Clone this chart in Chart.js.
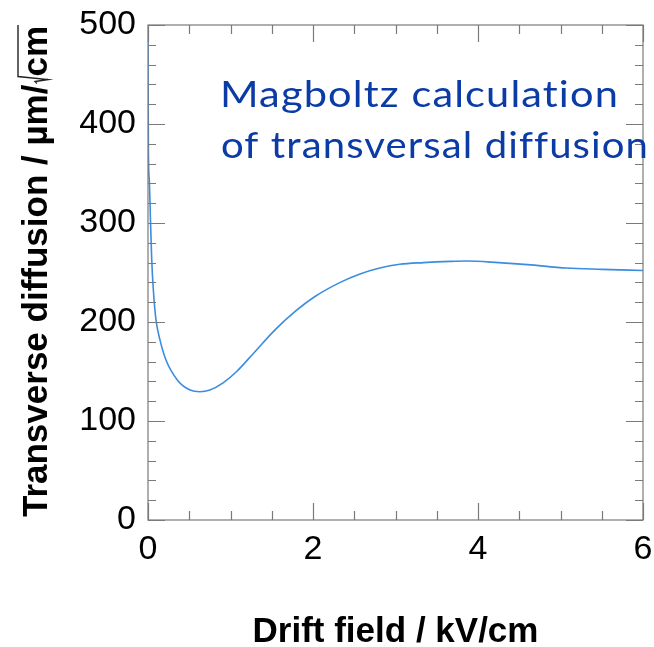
<!DOCTYPE html>
<html>
<head>
<meta charset="utf-8">
<script src="https://cdn.jsdelivr.net/npm/chart.js@4/dist/chart.umd.min.js"></script>
<style>
  html, body { margin: 0; padding: 0; background: #fff; }
</style>
</head>
<body>
<canvas id="chart" width="654" height="647"></canvas>
<script>
// Magboltz transverse diffusion vs drift field
const fieldKV = [0, 0.002, 0.005, 0.016, 0.03, 0.045, 0.065, 0.097, 0.145, 0.218,
  0.36, 0.51, 0.63, 0.75, 0.91, 1.075, 1.28, 1.54, 1.78, 2.02,
  2.33, 2.57, 2.81, 3.05, 3.34, 3.66, 3.86, 4.25, 4.6, 5.07,
  5.5, 6.0];
const diffusion = [500, 434, 371, 343, 303, 263, 232, 202, 182, 161.6,
  141, 131.3, 129.6, 131.3, 138.5, 150, 168.5, 192, 210.4, 225.5,
  240, 248.5, 254.5, 258.3, 260, 261.2, 261.6, 260, 258, 254.5,
  253.2, 252];

const xTickLabels = [0, 2, 4, 6];
const yTickLabels = [0, 100, 200, 300, 400, 500];
const xMinorStep = 0.5;
const yMinorStep = 20;

const xTitle = "Drift field / kV/cm";
const yTitle = "Transverse diffusion / µm/";
const yTitleRoot = "cm";
const noteLines = ["Magboltz calculation", "of transversal diffusion"];

const FRAME = "#7a7a7a";

// ROOT-like frame with inner ticks on all four sides, plus titles and note
const rootFrame = {
  id: "rootFrame",
  afterDatasetsDraw(chart) {
    const ctx = chart.ctx;
    const a = chart.chartArea;
    const xs = chart.scales.x, ys = chart.scales.y;
    ctx.save();
    ctx.strokeStyle = FRAME;
    ctx.lineWidth = 1.2;
    ctx.strokeRect(a.left, a.top, a.right - a.left, a.bottom - a.top);

    ctx.beginPath();
    for (let v = xs.min; v <= xs.max + 1e-9; v += xMinorStep) {
      const px = Math.round(xs.getPixelForValue(v)) + 0.5;
      const len = xTickLabels.includes(v) ? 17 : 9;
      ctx.moveTo(px, a.bottom); ctx.lineTo(px, a.bottom - len);
      ctx.moveTo(px, a.top); ctx.lineTo(px, a.top + len);
    }
    for (let v = ys.min; v <= ys.max + 1e-9; v += yMinorStep) {
      const py = Math.round(ys.getPixelForValue(v)) + 0.5;
      const len = yTickLabels.includes(v) ? 17 : 8;
      ctx.moveTo(a.left, py); ctx.lineTo(a.left + len, py);
      ctx.moveTo(a.right, py); ctx.lineTo(a.right - len, py);
    }
    ctx.stroke();

    // x title
    ctx.fillStyle = "#000";
    ctx.font = "bold 35px 'Liberation Sans', Arial, sans-serif";
    ctx.textAlign = "center";
    ctx.textBaseline = "alphabetic";
    ctx.fillText(xTitle, (a.left + a.right) / 2, 642);

    // y title, rotated, with a drawn square root over "cm"
    ctx.save();
    ctx.translate(47, (a.top + a.bottom) / 2 - 1);
    ctx.rotate(-Math.PI / 2);
    const w1 = ctx.measureText(yTitle).width;
    const w2 = ctx.measureText(yTitleRoot).width;
    const rootW = 8;
    const total = w1 + rootW + w2;
    const x0 = -total / 2;
    ctx.textAlign = "left";
    ctx.fillText(yTitle, x0, 0);
    const rx = x0 + w1 + 1;
    ctx.beginPath();
    ctx.strokeStyle = "#222";
    ctx.lineWidth = 1.4;
    ctx.moveTo(rx, -10);
    ctx.lineTo(rx + 2, -12);
    ctx.lineTo(rx + 4, 1);
    ctx.lineTo(rx + 7, -29);
    ctx.lineTo(rx + rootW + w2, -29);
    ctx.stroke();
    ctx.fillText(yTitleRoot, x0 + w1 + rootW, 0);
    ctx.restore();

    // annotation: each line stretched to the span it has in the original
    ctx.fillStyle = "#0b3ca6";
    ctx.font = "37px Lato, 'Open Sans', sans-serif";
    ctx.letterSpacing = "1px";
    ctx.textAlign = "left";
    const spans = [[220, 107, 399], [221, 158, 428]];
    noteLines.forEach((line, i) => {
      const [lx, ly, span] = spans[i];
      ctx.save();
      ctx.translate(lx, ly);
      ctx.scale(span / ctx.measureText(line).width, 1);
      ctx.fillText(line, 0, 0);
      ctx.restore();
    });
    ctx.restore();
  }
};

new Chart(document.getElementById("chart"), {
  type: "scatter",
  data: {
    datasets: [{
      data: fieldKV.map((x, i) => ({ x, y: diffusion[i] })),
      showLine: true,
      borderColor: "#3a8de0",
      borderWidth: 1.6,
      pointRadius: 0,
      cubicInterpolationMode: "monotone",
      fill: false
    }]
  },
  options: {
    responsive: false,
    devicePixelRatio: 1,
    animation: false,
    layout: { padding: { top: 25, right: 11, left: 0, bottom: 0 } },
    plugins: { legend: { display: false }, tooltip: { enabled: false } },
    scales: {
      x: {
        type: "linear",
        min: 0, max: 6,
        afterFit: s => { s.height = 127; s.paddingLeft = 0; s.paddingRight = 0; },
        afterBuildTicks: s => { s.ticks = xTickLabels.map(v => ({ value: v })); },
        grid: { display: false, drawTicks: false },
        border: { display: false },
        ticks: {
          padding: 9,
          color: "#000",
          maxRotation: 0,
          font: { family: "'Liberation Sans', Arial, sans-serif", size: 34 }
        }
      },
      y: {
        type: "linear",
        min: 0, max: 500,
        afterFit: s => { s.width = 148; s.paddingTop = 0; s.paddingBottom = 0; },
        afterBuildTicks: s => { s.ticks = yTickLabels.map(v => ({ value: v })); },
        grid: { display: false, drawTicks: false },
        border: { display: false },
        ticks: {
          padding: 12,
          color: "#000",
          font: { family: "'Liberation Sans', Arial, sans-serif", size: 34 }
        }
      }
    }
  },
  plugins: [rootFrame]
});
</script>
</body>
</html>
